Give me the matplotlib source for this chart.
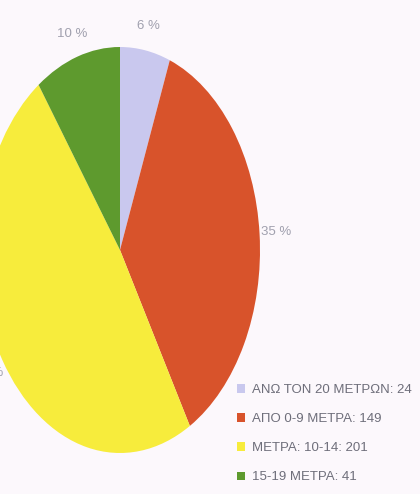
import numpy as np
import matplotlib
matplotlib.use('Agg')
import matplotlib.pyplot as plt
from matplotlib.patches import Patch

# data
categories = ['ΑΝΩ ΤΟΝ 20 ΜΕΤΡΩΝ: 24', 'ΑΠΟ 0-9 ΜΕΤΡΑ: 149',
              'ΜΕΤΡΑ: 10-14: 201', '15-19 ΜΕΤΡΑ: 41']
values = [24, 149, 201, 41]
pct_labels = ['6 %', '35 %', '48 %', '10 %']
colors = ['#c9c8ee', '#d8532b', '#f7ec3c', '#5e9a2e']

plt.rcParams['font.family'] = ['Liberation Sans', 'DejaVu Sans']

fig = plt.figure(figsize=(4.2, 4.94), dpi=100)
fig.patch.set_facecolor('#fcf8fc')

# pie is stretched vertically and cut off on the left
ax = fig.add_axes([-20/420, 41/494, 280/420, 406/494])
wedges, texts = ax.pie(values, colors=colors, startangle=90, counterclock=False,
                       labels=pct_labels, labeldistance=1.12,
                       textprops=dict(color='#a0a0ae', fontsize=9.5))
for t in texts:
    t.set_ha('center')
    t.set_va('center')
    t.set_clip_on(False)
ax.set_aspect('auto')
ax.set_xlim(-1, 1)
ax.set_ylim(-1, 1)
ax.axis('off')

handles = [Patch(facecolor=c, edgecolor='none') for c in colors]
fig.legend(handles, categories, loc='upper left',
           bbox_to_anchor=(237/420, 1 - 384/494), frameon=False,
           borderaxespad=0, borderpad=0, handlelength=0.6, handleheight=0.6,
           handletextpad=0.5, labelspacing=1.3, fontsize=9.5,
           labelcolor='#6e6e7a')

plt.savefig('out.png', dpi=100, facecolor=fig.get_facecolor())
